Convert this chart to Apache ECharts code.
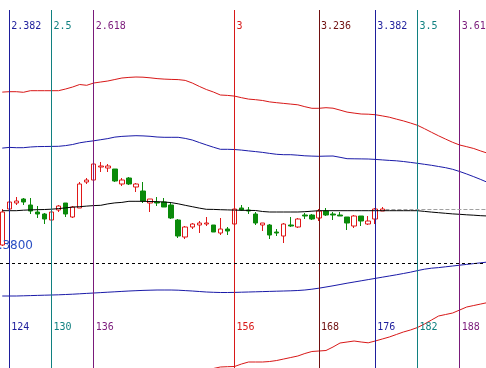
<!DOCTYPE html>
<html><head><meta charset="utf-8">
<script src="https://cdn.jsdelivr.net/npm/echarts@6/dist/echarts.min.js"></script>
<style>html,body{margin:0;padding:0;background:#fff}#c{width:486px;height:368px}</style>
</head><body><div id="c"></div>
<script>
// ---- candle data (bar index, open, close, low, high) ----
const barIndex = [123,124,125,126,127,128,129,130,131,132,133,134,135,136,137,138,139,140,141,142,143,144,145,146,147,148,149,150,151,152,153,154,155,156,157,158,159,160,161,162,163,164,165,166,167,168,169,170,171,172,173,174,175,176,177];
const openP  = [1.3818,1.3854,1.3860,1.3864,1.3858,1.3851,1.3849,1.3843,1.3853,1.3860,1.3846,1.3855,1.3881,1.3883,1.3896,1.3895,1.3894,1.3879,1.3885,1.3876,1.3872,1.3860,1.3861,1.3861,1.3858,1.3843,1.3826,1.3836,1.3838,1.3839,1.3838,1.3830,1.3834,1.3839,1.3855,1.3853,1.3849,1.3838,1.3838,1.3831,1.3827,1.3838,1.3836,1.3848,1.3848,1.3845,1.3852,1.3849,1.3848,1.3846,1.3837,1.3847,1.3839,1.3844,1.3852];
const closeP = [1.3851,1.3861,1.3862,1.3861,1.3852,1.3849,1.3844,1.3851,1.3857,1.3849,1.3856,1.3879,1.3883,1.3899,1.3897,1.3897,1.3882,1.3883,1.3879,1.3879,1.3862,1.3864,1.3860,1.3856,1.3845,1.3827,1.3836,1.3839,1.3840,1.3840,1.3831,1.3834,1.3832,1.3854,1.3853,1.3852,1.3840,1.3840,1.3828,1.3830,1.3839,1.3837,1.3844,1.3847,1.3844,1.3852,1.3848,1.3848,1.3847,1.3840,1.3847,1.3842,1.3842,1.3854,1.3854];
const lowP   = [1.3817,1.3850,1.3858,1.3858,1.3849,1.3845,1.3839,1.3842,1.3851,1.3846,1.3845,1.3855,1.3879,1.3880,1.3891,1.3891,1.3881,1.3877,1.3878,1.3871,1.3860,1.3851,1.3857,1.3856,1.3844,1.3825,1.3824,1.3834,1.3830,1.3837,1.3831,1.3828,1.3828,1.3839,1.3852,1.3849,1.3838,1.3832,1.3824,1.3827,1.3820,1.3836,1.3835,1.3844,1.3843,1.3842,1.3847,1.3843,1.3847,1.3833,1.3835,1.3837,1.3838,1.3839,1.3852];
const highP  = [1.3854,1.3865,1.3866,1.3865,1.3865,1.3857,1.3850,1.3852,1.3858,1.3860,1.3857,1.3881,1.3885,1.3906,1.3901,1.3899,1.3894,1.3885,1.3886,1.3880,1.3881,1.3864,1.3866,1.3865,1.3860,1.3844,1.3837,1.3840,1.3842,1.3846,1.3838,1.3845,1.3836,1.3854,1.3858,1.3856,1.3851,1.3840,1.3839,1.3834,1.3840,1.3846,1.3845,1.3850,1.3849,1.3854,1.3855,1.3851,1.3851,1.3846,1.3848,1.3847,1.3847,1.3855,1.3856];

// ---- band lines (bar index 123..192) ----
const bandIndex = [123,124,125,126,127,128,129,130,131,132,133,134,135,136,137,138,139,140,141,142,143,144,145,146,147,148,149,150,151,152,153,154,155,156,157,158,159,160,161,162,163,164,165,166,167,168,169,170,171,172,173,174,175,176,177,178,179,180,181,182,183,184,185,186,187,188,189,190,191,192];
const redUpper = [1.39709,1.39713,1.39713,1.39707,1.39723,1.39723,1.39723,1.39723,1.39723,1.3974,1.3976,1.39785,1.39777,1.398,1.3981,1.3982,1.39835,1.3985,1.39856,1.3986,1.39858,1.39852,1.39844,1.39839,1.39836,1.39834,1.39826,1.398,1.39766,1.39735,1.3971,1.3968,1.39676,1.39669,1.39653,1.39639,1.39633,1.39625,1.39611,1.39603,1.39596,1.39589,1.39582,1.39563,1.39547,1.39547,1.39553,1.39548,1.39529,1.39509,1.39499,1.3949,1.39488,1.39483,1.39471,1.39458,1.39439,1.39421,1.394,1.39377,1.39343,1.39307,1.39272,1.39239,1.39207,1.3918,1.39163,1.39145,1.3912,1.39097];
const blueUpper = [1.39149,1.39156,1.39153,1.39153,1.3916,1.39164,1.39165,1.39166,1.39167,1.39174,1.39185,1.39202,1.39213,1.39222,1.39233,1.39244,1.39259,1.39266,1.3927,1.39273,1.39271,1.39267,1.3926,1.39257,1.39257,1.39257,1.39246,1.3923,1.39205,1.39181,1.39158,1.39137,1.39137,1.39135,1.39129,1.39121,1.39114,1.39106,1.39096,1.39087,1.39083,1.39083,1.39078,1.39072,1.39069,1.39067,1.39069,1.3907,1.39057,1.39043,1.39042,1.39041,1.3904,1.39036,1.39031,1.39026,1.39022,1.39015,1.39006,1.38997,1.38987,1.38977,1.38965,1.38953,1.38937,1.38915,1.3889,1.38863,1.38835,1.38805];
const middle = [1.38523,1.38523,1.38523,1.38528,1.38531,1.38533,1.38535,1.38538,1.38544,1.38551,1.38559,1.38563,1.38569,1.38574,1.38577,1.38591,1.38601,1.38606,1.38617,1.38617,1.38617,1.38615,1.38613,1.3861,1.38604,1.38592,1.38577,1.38563,1.38549,1.38537,1.38536,1.38533,1.38531,1.38529,1.38527,1.38526,1.38525,1.38515,1.3851,1.3851,1.3851,1.3851,1.3851,1.38513,1.38518,1.38523,1.38523,1.38523,1.38523,1.38523,1.38523,1.38523,1.38523,1.38523,1.38523,1.38523,1.38523,1.38523,1.38523,1.38523,1.38516,1.38509,1.38503,1.38497,1.38491,1.38487,1.38482,1.38478,1.38473,1.3847];
const blueLower = [1.3767,1.3767,1.3767,1.37672,1.37674,1.37676,1.37678,1.3768,1.37682,1.37685,1.37688,1.37692,1.37696,1.377,1.37704,1.37708,1.37712,1.37716,1.3772,1.37723,1.37726,1.37728,1.3773,1.3773,1.3773,1.37728,1.37724,1.3772,1.37715,1.3771,1.37707,1.37705,1.37705,1.37706,1.37708,1.3771,1.37712,1.37714,1.37716,1.37718,1.3772,1.37722,1.37725,1.3773,1.37738,1.37748,1.3776,1.37772,1.37785,1.37798,1.3781,1.37822,1.37834,1.37846,1.37858,1.3787,1.37882,1.37895,1.37908,1.37924,1.37938,1.37948,1.37954,1.37962,1.3797,1.37978,1.37986,1.37994,1.38002,1.3801];
const redLower = [1.3687,1.3687,1.3687,1.36865,1.3686,1.3686,1.3686,1.36855,1.3685,1.3684,1.3683,1.3682,1.36815,1.3681,1.36805,1.368,1.368,1.368,1.368,1.368,1.36805,1.3681,1.3682,1.3683,1.3684,1.36855,1.3687,1.3689,1.3691,1.3693,1.36945,1.3696,1.36963,1.36965,1.3699,1.3701,1.3701,1.3701,1.37015,1.37025,1.3704,1.37055,1.3707,1.37095,1.37115,1.3712,1.37125,1.3716,1.372,1.3721,1.3722,1.3721,1.37202,1.3722,1.3724,1.3726,1.37285,1.3731,1.3733,1.37355,1.3739,1.3743,1.3747,1.37485,1.375,1.3753,1.3756,1.37575,1.3759,1.37605];

// ---- Fibonacci time zones ----
const fibIndex = [124,130,136,156,168,176,182,188];
const fibRatio = ['2.382','2.5','2.618','3','3.236','3.382','3.5','3.618'];
const fibColors = ['#1e1e9c','#108080','#7a1a7a','#d81818','#701010','#1e1e9c','#108080','#7a1a7a'];
const levelPrice = 1.3800;

const X_MIN = 122.68, X_MAX = 191.74, Y_MIN = 1.3695, Y_MAX = 1.4063;

const chart = echarts.init(document.getElementById('c'));
const candles = barIndex.map((x,k)=>[x, openP[k], closeP[k], lowP[k], highP[k]]);
const band = arr => bandIndex.map((x,k)=>[x, arr[k]]);
const lastK = barIndex.length - 1;
const lineS = (arr, color) => ({type:'line', data: band(arr), symbol:'none', z:4, silent:true,
  lineStyle:{color, width:1}, animation:false});

chart.setOption({
  backgroundColor:'#ffffff',
  animation:false,
  grid:[{left:0,right:0,top:0,bottom:0},{left:0,right:0,top:10,bottom:0}],
  xAxis:[{type:'value',min:X_MIN,max:X_MAX,show:false,gridIndex:0},
         {type:'value',min:X_MIN,max:X_MAX,show:false,gridIndex:1}],
  yAxis:[{type:'value',min:Y_MIN,max:Y_MAX,show:false,gridIndex:0,scale:true},
         {type:'value',min:0,max:1,show:false,gridIndex:1}],
  series:[
    {type:'line', xAxisIndex:1, yAxisIndex:1, data:[], z:6, silent:true,
     markLine:{symbol:['none','none'], silent:true, animation:false, label:{show:false},
       data: fibIndex.map((x,k)=>({xAxis:x, lineStyle:{color:fibColors[k], width:1, type:'solid'}}))}},
    {type:'candlestick', data: candles, barWidth:5, z:3, clip:false,
     itemStyle:{color:'#ffffff', color0:'#0a8a0a', borderColor:'#e01818', borderColor0:'#0a8a0a', borderWidth:1},
     markLine:{symbol:['none','none'], silent:true, animation:false, label:{show:false},
       data:[
         {yAxis: levelPrice, lineStyle:{color:'#000000', width:1, type:[3,3]}},
         [{coord:[barIndex[lastK]+0.45, closeP[lastK]], lineStyle:{color:'#a0a0a0', width:1, type:[4,2]}},
          {coord:[X_MAX, closeP[lastK]]}]
       ]}},
    lineS(redUpper,'#d81818'),
    lineS(blueUpper,'#1a1aa8'),
    lineS(middle,'#000000'),
    lineS(blueLower,'#1a1aa8'),
    lineS(redLower,'#d81818')
  ]
});

const gfx = [];
fibIndex.forEach((x,k)=>{
  const px = chart.convertToPixel({xAxisIndex:0}, x);
  gfx.push({type:'text', x:px+2, y:26, silent:true, z:10,
    style:{text:fibRatio[k], fill:fibColors[k], font:'10px "DejaVu Sans Mono"', verticalAlign:'middle', align:'left'}});
  gfx.push({type:'text', x:px+2, y:327, silent:true, z:10,
    style:{text:String(x), fill:fibColors[k], font:'10px "DejaVu Sans Mono"', verticalAlign:'middle', align:'left'}});
});
const ly = chart.convertToPixel({yAxisIndex:0}, levelPrice);
gfx.push({type:'text', x:33, y:ly-17, silent:true, z:10,
  style:{text:levelPrice.toFixed(4), fill:'#2a4fc4', font:'12px "DejaVu Sans"', verticalAlign:'middle', align:'right'}});
chart.setOption({graphic: gfx});
</script>
</body></html>
